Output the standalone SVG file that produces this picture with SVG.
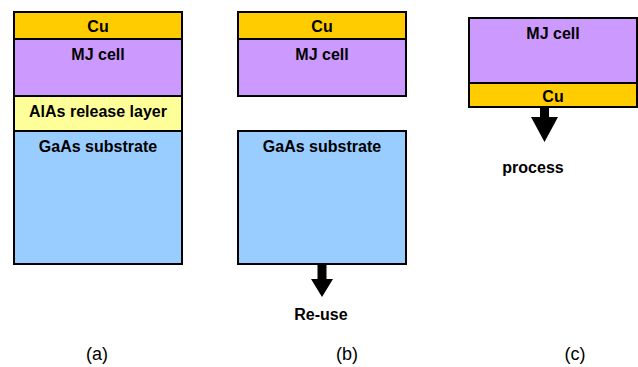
<svg xmlns="http://www.w3.org/2000/svg" width="638" height="367" viewBox="0 0 638 367">
<style>
.l{stroke:#000;stroke-width:2}
.cu{fill:#FFCC00}.mj{fill:#CC99FF}.al{fill:#FFFF99}.ga{fill:#99CCFF}
.t{font-family:"Liberation Sans",Arial,sans-serif;font-weight:bold;font-size:16px;text-anchor:middle;fill:#000}
.c{font-family:"Liberation Sans",Arial,sans-serif;font-size:18px;text-anchor:middle;fill:#000}
</style>
<rect width="638" height="367" fill="#fff"/>
<g id="a">
<rect class="l ga" x="14" y="131" width="168" height="133"/>
<rect class="l al" x="14" y="96" width="168" height="35"/>
<rect class="l mj" x="14" y="39" width="168" height="57"/>
<rect class="l cu" x="14" y="12" width="168" height="27"/>
<text class="t" x="98" y="32">Cu</text>
<text class="t" x="98" y="60">MJ cell</text>
<text class="t" x="98" y="117">AlAs release layer</text>
<text class="t" x="98" y="152">GaAs substrate</text>
<text class="c" x="97" y="360">(a)</text>
</g>
<g id="b">
<rect class="l mj" x="238" y="39" width="168" height="57"/>
<rect class="l cu" x="238" y="12" width="168" height="27"/>
<rect class="l ga" x="238" y="131" width="168" height="133"/>
<text class="t" x="322" y="32">Cu</text>
<text class="t" x="322" y="60">MJ cell</text>
<text class="t" x="322" y="152">GaAs substrate</text>
<text class="t" x="321" y="320">Re-use</text>
<text class="c" x="347" y="360">(b)</text>
</g>
<g id="c">
<rect class="l mj" x="469" y="18" width="168" height="65"/>
<rect class="l cu" x="469" y="83" width="168" height="24"/>
<text class="t" x="553" y="39">MJ cell</text>
<text class="t" x="553" y="102">Cu</text>
<text class="t" x="533" y="173">process</text>
<text class="c" x="575" y="360">(c)</text>
</g>
<g id="connectors" fill="#000">
<polygon points="317.5,265 326.5,265 326.5,279 333,279 322,297 311,279 317.5,279"/>
<polygon points="540,108 549,108 549,117 558,117 544.5,142 531,117 540,117"/>
</g>
</svg>
